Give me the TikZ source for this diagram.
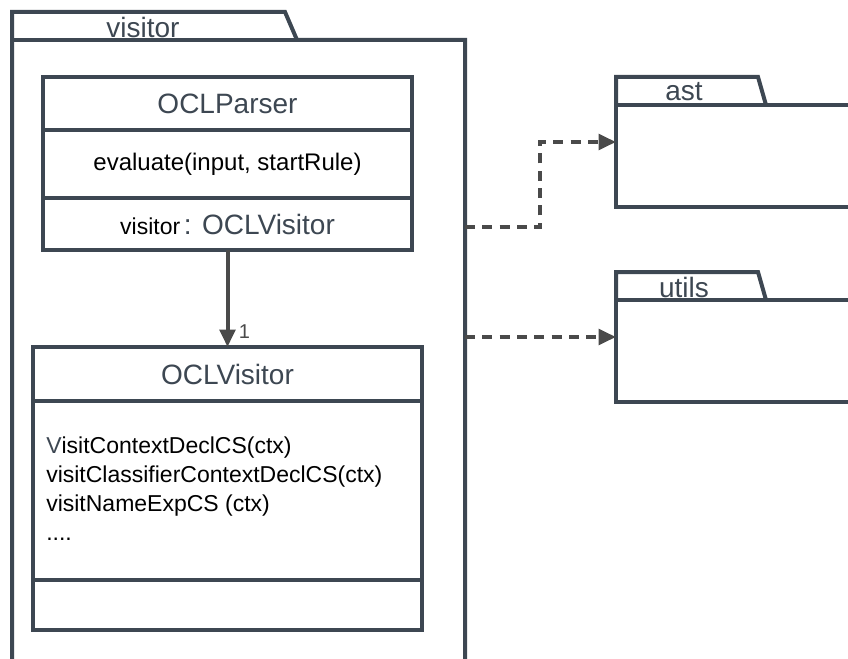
\documentclass[tikz,border=0pt]{standalone}
\usepackage{fontspec}
\setmainfont{Liberation Sans}
\usetikzlibrary{arrows.meta,positioning}
\definecolor{umlslate}{RGB}{61,71,82}
\definecolor{umlarrow}{RGB}{74,74,74}
\newcommand{\pxu}{0.75pt}
\tikzset{
  umlline/.style={draw=umlslate,line width=3pt},
  compart/.style={umlline,fill=white,anchor=north west,inner sep=0pt,outer sep=0pt,minimum width=#1},
  bigtxt/.style={font=\fontsize{21}{25}\selectfont,text=umlslate},
  midtxt/.style={font=\fontsize{18}{22}\selectfont},
  optxt/.style={font=\fontsize{17.25}{21.75}\selectfont},
  assoc/.style={umlarrow,line width=3pt,-{Triangle[length=13pt,width=11.5pt]}},
  depend/.style={assoc,dash pattern=on 7.5pt off 5.5pt},
}

\begin{document}
\begin{tikzpicture}[x=\pxu,y=-\pxu]
\useasboundingbox (0,0) rectangle (848,659);
\clip (0,0) rectangle (848,659);
% package visitor
\draw[umlline,fill=white] (12,700) -- (12,12) -- (285,12) -- (297,40) -- (465,40) -- (465,700);
\draw[umlline] (12,40) -- (297,40);
\node[bigtxt,inner sep=0pt] (visitorLbl) at (143,27) {visitor};
% class OCLParser
\node[compart=276.75pt,minimum height=39.75pt,bigtxt] (parserName) at (43,77) {OCLParser};
\node[compart=276.75pt,minimum height=51pt,midtxt] (parserOps) at (parserName.south west) {evaluate(input, startRule)};
\node[compart=276.75pt,minimum height=39pt] (parserAttr) at (parserOps.south west)
  {{\fontsize{17.25}{20}\selectfont visitor}\ {\fontsize{21}{25}\selectfont\color{umlslate}: OCLVisitor}};
% class OCLVisitor
\node[compart=291.75pt,minimum height=40.5pt,bigtxt] (visitorName) at (33,347) {OCLVisitor};
\node[compart=291.75pt,minimum height=134.25pt] (visitorOps) at (visitorName.south west) {};
\node[compart=291.75pt,minimum height=37.5pt] (visitorAttr) at (visitorOps.south west) {};
\node[optxt,anchor=west,align=left,inner sep=0pt] (visitorOpList) at (46,489)
  {{\color{umlslate}V}isitContextDeclCS(ctx)\\visitClassifierContextDeclCS(ctx)\\visitNameExpCS (ctx)\\....};
\draw[assoc] (parserAttr) -- (visitorName)
  node[pos=1,anchor=south west,xshift=6pt,yshift=4.25pt,inner sep=1pt,font=\fontsize{15}{18}\selectfont] (oneLbl) {1};
% packages ast and utils
\draw[umlline,fill=white] (616,105) -- (616,77) -- (758,77) -- (766,105);
\node[compart=195pt,minimum height=76.5pt] (astPkg) at (616,105) {};
\node[bigtxt,inner sep=0pt] (astLbl) at (684,92) {ast};
\draw[umlline,fill=white] (616,300) -- (616,272) -- (758,272) -- (766,300);
\node[compart=195pt,minimum height=76.5pt] (utilsPkg) at (616,300) {};
\node[bigtxt,inner sep=0pt] (utilsLbl) at (684,287) {utils};
% dependencies
\coordinate (visOut1) at (465,227);
\coordinate (visOut2) at (465,337);
\coordinate (astIn) at (616,142);
\draw[depend] (visOut1) -- ++(75,0) |- (astIn);
\draw[depend] (visOut2) -- (visOut2 -| utilsPkg.west);
\end{tikzpicture}
\end{document}
